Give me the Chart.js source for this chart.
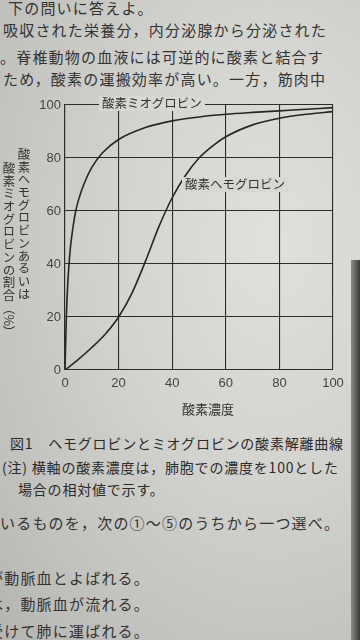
<!DOCTYPE html>
<html>
<head>
<meta charset="utf-8">
<script src="https://cdn.jsdelivr.net/npm/chart.js@4/dist/chart.umd.min.js"></script>
<style>
  body {
    margin: 0;
    width: 360px;
    height: 640px;
    overflow: hidden;
    position: relative;
    background: radial-gradient(ellipse at 75% 38%, #e0e0dc 0%, #d3d3cf 40%, #c0c0bc 80%, #b4b4b0 100%);
    font-family: "Noto Sans CJK JP", sans-serif;
    color: #2f2f2f;
  }
  .t { position: absolute; white-space: nowrap; line-height: 1; }
  .body { font-size: 15px; letter-spacing: 1.2px; color: #333; }
  .cap { font-size: 14px; letter-spacing: 0.8px; color: #2b2b2b; }
  .lab { font-size: 12.5px; color: #333; background: #d7d7d3; padding: 1px 3px; }
  .vt { position: absolute; writing-mode: vertical-rl; font-size: 12.5px; line-height: 1; color: #333; letter-spacing: 0.2px; }
  #shade { position: absolute; right: 0; top: 260px; width: 9px; height: 380px; background: linear-gradient(to right, #8a8a86, #3a3a38); }
  #wrap { position: absolute; left: 0; top: 0; width: 360px; height: 400px; }
</style>
</head>
<body>
<div class="t body" style="left:8px;top:0px;">下の問いに答えよ。</div>
<div class="t body" style="left:3px;top:22px;">吸収された栄養分，内分泌腺から分泌された</div>
<div class="t body" style="left:0px;top:49px;">。脊椎動物の血液には可逆的に酸素と結合す</div>
<div class="t body" style="left:3px;top:71px;">ため，酸素の運搬効率が高い。一方，筋肉中</div>

<div id="wrap"><canvas id="oxygenChart" width="360" height="400"></canvas></div>

<div class="t lab" style="left:99px;top:96px;">酸素ミオグロビン</div>
<div class="t lab" style="left:182px;top:177px;">酸素ヘモグロビン</div>
<div class="vt" style="left:17px;top:148px;">酸素ヘモグロビンあるいは</div>
<div class="vt" style="left:2px;top:162px;">酸素ミオグロビンの割合（%）</div>
<div class="t" style="left:182px;top:402px;font-size:13px;color:#333;">酸素濃度</div>

<div class="t cap" style="left:10px;top:436px;">図1　ヘモグロビンとミオグロビンの酸素解離曲線</div>
<div class="t cap" style="left:2px;top:460px;">(注) 横軸の酸素濃度は，肺胞での濃度を100とした</div>
<div class="t cap" style="left:18px;top:482px;">場合の相対値で示す。</div>

<div class="t body" style="left:0px;top:515px;">いるものを，次の①～⑤のうちから一つ選べ。</div>
<div class="t body" style="left:-12px;top:570px;">が動脈血とよばれる。</div>
<div class="t body" style="left:-12px;top:596px;">は，動脈血が流れる。</div>
<div class="t body" style="left:-12px;top:623px;">受けて肺に運ばれる。</div>
<div id="shade"></div>

<script>
//Values
const xTicks = [0, 20, 40, 60, 80, 100];
const yTicks = [0, 20, 40, 60, 80, 100];

//Myoglobin curve
const myoX = [0, 0.5, 1, 1.5, 2, 3, 4, 5, 7, 10, 14, 20, 30, 40, 50, 60, 70, 80, 90, 100];
const myoY = [0, 20, 32, 40, 46, 54, 60, 64, 70, 76.5, 82, 87, 91.5, 94, 95.5, 96.5, 97.2, 97.8, 98.4, 99];

//Hemoglobin curve
const hemoX = [0, 5, 10, 15, 20, 25, 30, 35, 40, 45, 50, 55, 60, 70, 80, 90, 100];
const hemoY = [0, 4, 8.5, 13.5, 20, 29, 41, 54, 65, 73.5, 80, 84.5, 88, 92.5, 95, 96.5, 97.5];

//Turn the arrays into points
function toPoints(xs, ys) {
  return xs.map((x, i) => ({ x: x, y: ys[i] }));
}

const lineColor = "#262626";
const gridColor = "#2c2c2c";

const config = {
  type: "line",
  data: {
    datasets: [
      {
        label: "酸素ミオグロビン",
        data: toPoints(myoX, myoY),
        borderColor: lineColor,
        borderWidth: 1.6,
        pointRadius: 0,
        cubicInterpolationMode: "monotone",
        fill: false,
      },
      {
        label: "酸素ヘモグロビン",
        data: toPoints(hemoX, hemoY),
        borderColor: lineColor,
        borderWidth: 1.6,
        pointRadius: 0,
        cubicInterpolationMode: "monotone",
        fill: false,
      },
    ],
  },
  options: {
    responsive: false,
    animation: false,
    layout: { padding: { left: 0, right: 27, top: 105, bottom: 0 } },
    plugins: { legend: { display: false }, tooltip: { enabled: false } },
    scales: {
      x: {
        type: "linear",
        min: 0,
        max: 100,
        afterBuildTicks: (s) => { s.ticks = xTicks.map((v) => ({ value: v })); },
        afterFit: (s) => { s.height = 30; },
        grid: { color: gridColor, lineWidth: 1.1, drawTicks: false },
        border: { color: gridColor, width: 1.1 },
        ticks: { padding: 6, color: "#444", font: { family: "Liberation Sans", size: 13 } },
      },
      y: {
        min: 0,
        max: 100,
        afterBuildTicks: (s) => { s.ticks = yTicks.map((v) => ({ value: v })); },
        afterFit: (s) => { s.width = 65; },
        grid: { color: gridColor, lineWidth: 1.1, drawTicks: false },
        border: { color: gridColor, width: 1.1 },
        ticks: { padding: 4, color: "#444", font: { family: "Liberation Sans", size: 13 } },
      },
    },
  },
};

new Chart(document.getElementById("oxygenChart"), config);
</script>
</body>
</html>
